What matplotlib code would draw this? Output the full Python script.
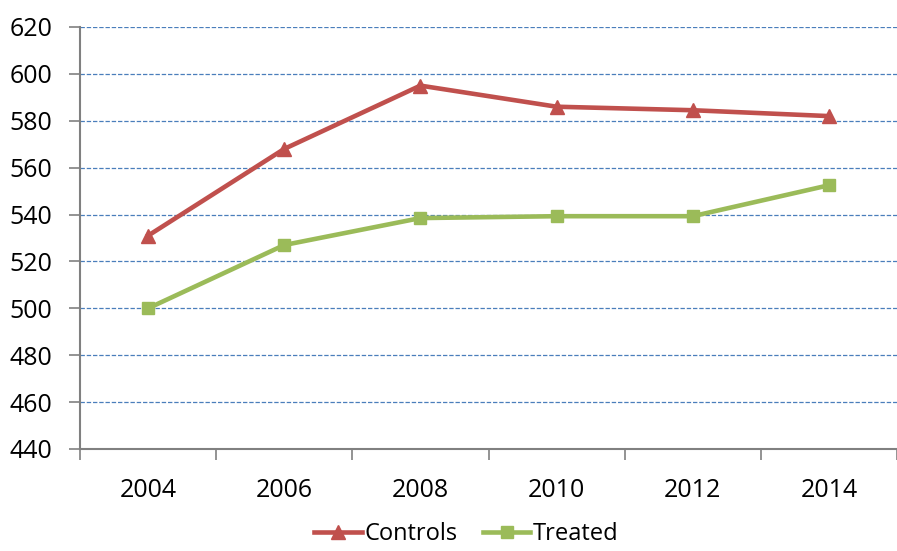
import matplotlib
matplotlib.use("Agg")
import matplotlib.pyplot as plt

years = ["2004", "2006", "2008", "2010", "2012", "2014"]
controls = [531, 568, 595, 586, 584.5, 582]
treated = [500, 527, 538.5, 539.3, 539.3, 552.5]
y_ticks = [440, 460, 480, 500, 520, 540, 560, 580, 600, 620]

plt.rcParams["font.family"] = ["Open Sans", "DejaVu Sans"]

fig = plt.figure(figsize=(8.97, 5.51), dpi=100)
ax = fig.add_axes([80 / 897, 1 - 449 / 551, 1 - 80 / 897, (449 - 27) / 551])

x = list(range(len(years)))
ax.plot(x, controls, color="#C0504D", lw=3.3, marker="^", ms=10, label="Controls", zorder=3)
ax.plot(x, treated, color="#9BBB59", lw=3.3, marker="s", ms=9, label="Treated", zorder=3)

ax.set_ylim(440, 620)
ax.set_yticks(y_ticks)
ax.set_xlim(-0.5, 5.41)
ax.set_xticks([i - 0.5 for i in range(7)])
ax.set_xticklabels([])
ax.set_xticks(x, minor=True)
ax.set_xticklabels(years, minor=True)
ax.tick_params(axis="x", which="minor", length=0, pad=21, labelsize=18)
ax.tick_params(axis="x", which="major", length=8, color="#808080", width=1.2)
ax.tick_params(axis="y", length=8, color="#808080", width=1.2, pad=12, labelsize=18)

ax.grid(axis="y", color="#4A7EBB", ls=(0, (3.5, 1.5)), lw=0.9)
ax.set_axisbelow(True)
for s in ["top", "right"]:
    ax.spines[s].set_visible(False)
for s in ["left", "bottom"]:
    ax.spines[s].set_color("#808080")
    ax.spines[s].set_linewidth(1.5)

fig.legend(loc="lower center", bbox_to_anchor=(0.52, -0.03), ncol=2, frameon=False,
           fontsize=17, handlelength=2.0, handletextpad=0.1, columnspacing=1.1)

fig.savefig("out.png", dpi=100)
